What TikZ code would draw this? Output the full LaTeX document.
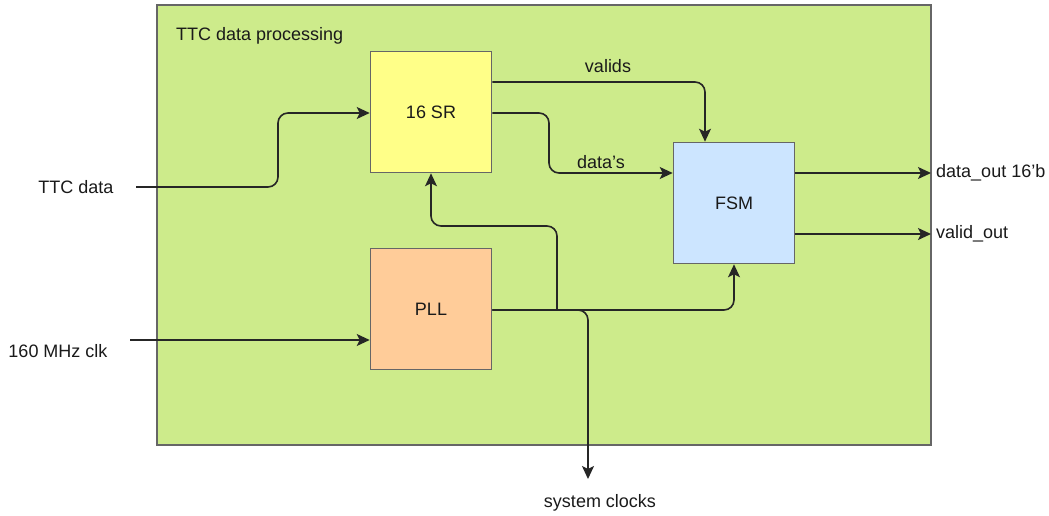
\documentclass[tikz,border=0pt]{standalone}
\usepackage{fontspec}
\setmainfont{Liberation Sans}
\usetikzlibrary{arrows.meta}
\definecolor{grn}{HTML}{CDEB8B}
\definecolor{ylw}{HTML}{FFFF88}
\definecolor{blu}{HTML}{CCE5FF}
\definecolor{org}{HTML}{FFCC99}
\definecolor{brd}{HTML}{666666}
\definecolor{txt}{HTML}{1A1A1A}
\begin{document}
\begin{tikzpicture}[x=1pt,y=-1pt,
  font=\fontsize{18}{21}\selectfont, text=txt,
  blk/.style={draw=brd, line width=1.6pt, minimum width=121pt, minimum height=121pt, inner sep=0pt},
  lbl/.style={inner sep=0pt},
  conn/.style={line width=1.6pt, draw=black!85, rounded corners=10pt},
  arr/.style={conn, -{Stealth[length=13pt,width=12pt,inset=3pt]}}]
\useasboundingbox (0,0) rectangle (1049,516);
\fill[white] (0,0) rectangle (1049,516);
\node[draw=brd, fill=grn, line width=1.6pt, minimum width=774pt, minimum height=440pt, inner sep=0pt] (outer) at (544,225) {};
\node[lbl, anchor=west] (title) at (176,36) {TTC data processing};
\node[blk, fill=ylw] (sr) at (431,112) {16 SR};
\node[blk, fill=blu] (fsm) at (734,203) {FSM};
\node[blk, fill=org] (pll) at (431,309) {PLL};
% inputs
\node[lbl] (ttc) at (76,187) {TTC data};
\node[lbl] (clk) at (58,351) {160 MHz clk};
\coordinate (ttcs) at (136,187);
\coordinate (clks) at (130,340);
\draw[arr] (ttcs) -- (278,187) -- (278,113) -- (sr.west |- 0,113);
\draw[arr] (clks) -- (pll.west |- 0,340);
% SR to FSM
\draw[arr] (sr.east |- 0,82) -- (705,82) -- (fsm.north -| 705,0);
\draw[arr] (sr.east |- 0,113) -- (549,113) -- (549,173) -- (fsm.west |- 0,173);
\node[lbl] (valids) at (608,66) {valids};
\node[lbl] (datas) at (601,162) {data\symbol{39}s};
% PLL clocks
\coordinate (j1) at (557,310);
\draw[arr] (pll.east |- 0,310) -- (fsm.south |- 0,310) -- (fsm.south);
\draw[arr] (j1) -- (557,226) -- (sr.south |- 0,226) -- (sr.south);
\coordinate (sysend) at (588,479);
\draw[arr] (pll.east |- 0,310) -- (588,310) -- (sysend);
\node[lbl] (sys) at (600,503) {system clocks};
% outputs
\coordinate (o1) at (931,173);
\coordinate (o2) at (931,234);
\draw[arr] (fsm.east |- o1) -- (o1);
\draw[arr] (fsm.east |- o2) -- (o2);
\node[lbl, anchor=west] (dout) at (936,173) {data\_out 16\symbol{39}b};
\node[lbl, anchor=west] (vout) at (936,234) {valid\_out};
\end{tikzpicture}
\end{document}
